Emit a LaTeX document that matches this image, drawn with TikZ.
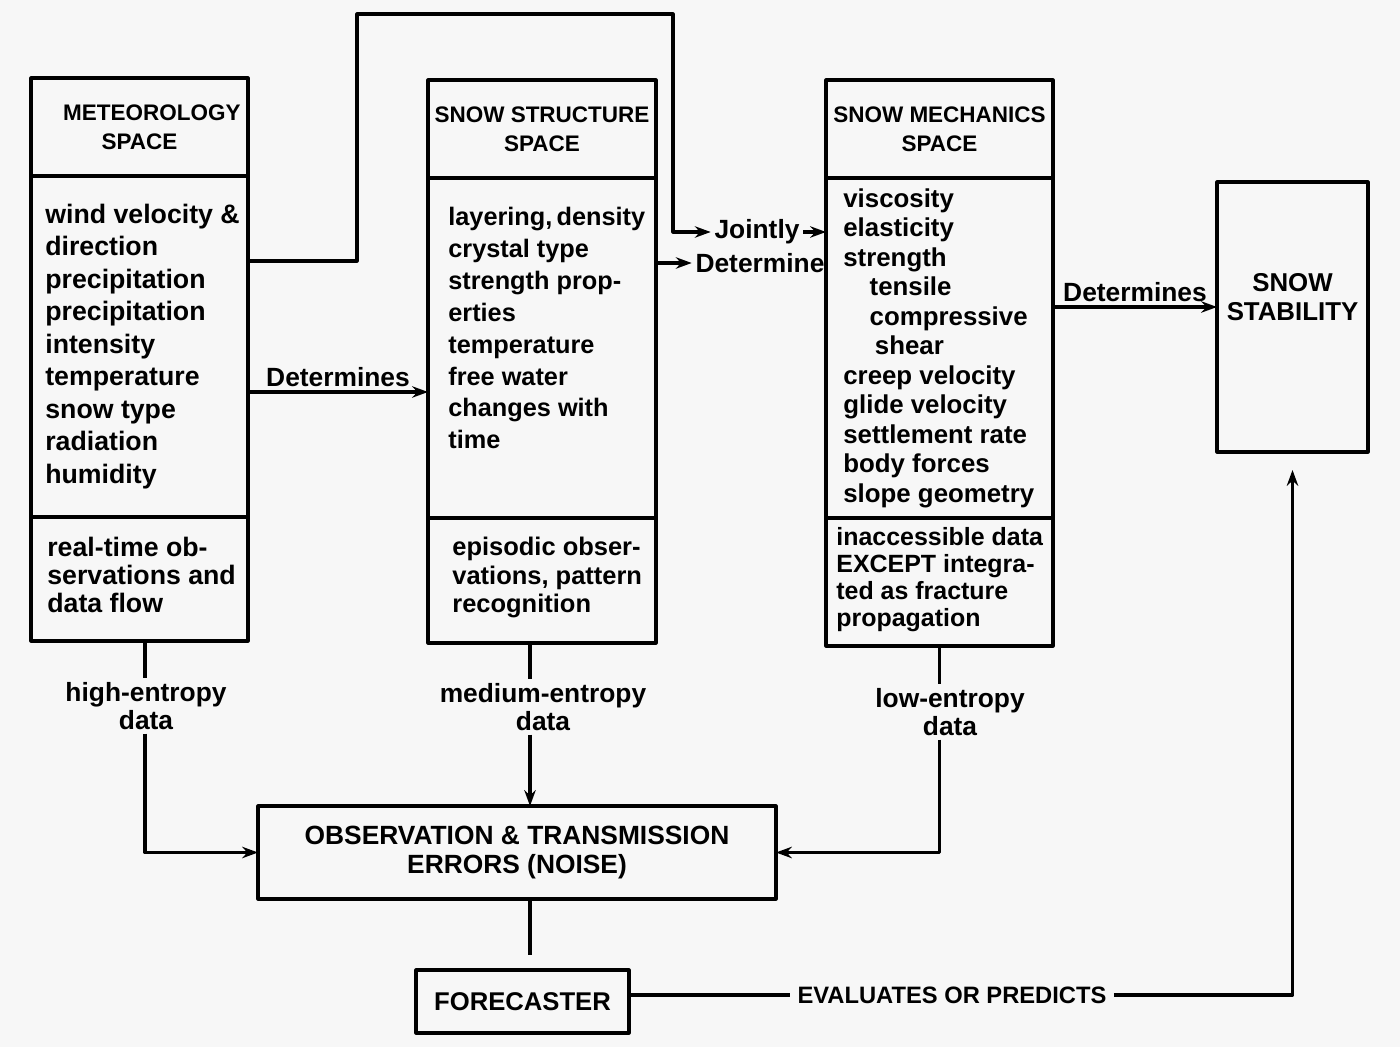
\documentclass[tikz,border=0pt]{standalone}
\usepackage{fontspec}
\setmainfont{Liberation Sans}
\usetikzlibrary{positioning,arrows.meta}
\newcommand{\px}{0.02cm}
\definecolor{paper}{gray}{0.97}
\tikzset{
  part/.style={draw, line width=1.8pt, inner sep=0pt, outer sep=0pt, minimum width=#1},
  hdr/.style={font=\fontsize{12.8}{16.5}\bfseries, align=center},
  lst/.style={font=\fontsize{15.2}{#1}\bfseries, align=left, inner sep=0pt, anchor=west},
  tag/.style={font=\fontsize{15}{16}\bfseries, align=center, inner sep=2pt},
  link/.style={line width=1.8pt},
  arr/.style={link, -{Stealth[length=9pt,width=6.5pt]}}
}
\begin{document}
\begin{tikzpicture}[x=\px, y=-\px, line join=round]
\fill[paper] (0,0) rectangle (1400,1047);
\useasboundingbox (0,0) rectangle (1400,1047);
% three spaces
\node[part=217*\px, minimum height=98*\px, anchor=north west, hdr] (methead) at (31,78) {\hspace*{14pt}METEOROLOGY\\SPACE};
\node[part=217*\px, minimum height=341*\px, below=0pt of methead] (metbody) {};
\node[part=217*\px, minimum height=124*\px, below=0pt of metbody] (metfoot) {};
\node[lst=18.5pt] (metlist) at ([xshift=14*\px]metbody.west) {wind velocity \&\\direction\\precipitation\\precipitation\\intensity\\temperature\\snow type\\radiation\\humidity};
\node[lst=16pt] (metobs) at ([xshift=16*\px, yshift=4*\px]metfoot.west) {real-time ob-\\servations and\\data flow};

\node[part=228*\px, minimum height=98*\px, anchor=north west, hdr] (sshead) at (428,80) {SNOW STRUCTURE\\SPACE};
\node[part=228*\px, minimum height=340*\px, below=0pt of sshead] (ssbody) {};
\node[part=228*\px, minimum height=125*\px, below=0pt of ssbody] (ssfoot) {};
\node[lst=18.2pt, font=\fontsize{14.4}{18.2}\bfseries] (sslist) at ([xshift=20*\px, yshift=20*\px]ssbody.west) {layering,\,density\\crystal type\\strength prop-\\erties\\temperature\\free water\\changes with\\time};
\node[lst=16.2pt, font=\fontsize{14.5}{16.2}\bfseries] (ssobs) at ([xshift=24*\px, yshift=3*\px]ssfoot.west) {episodic obser-\\vations, pattern\\recognition};

\node[part=227*\px, minimum height=98*\px, anchor=north west, hdr] (smhead) at (826,80) {SNOW MECHANICS\\SPACE};
\node[part=227*\px, minimum height=340*\px, below=0pt of smhead] (smbody) {};
\node[part=227*\px, minimum height=128*\px, below=0pt of smbody] (smfoot) {};
\node[lst=16.8pt, font=\fontsize{14.7}{16.8}\bfseries] (smlist) at ([xshift=17*\px]smbody.west) {viscosity\\elasticity\\strength\\\hspace*{15pt}tensile\\\hspace*{15pt}compressive\\\hspace*{18pt}shear\\creep velocity\\glide velocity\\settlement rate\\body forces\\slope geometry};
\node[lst=15.4pt, font=\fontsize{14.2}{15.4}\bfseries] (smobs) at ([xshift=10*\px, yshift=2*\px]smfoot.west) {inaccessible data\\EXCEPT integra-\\ted as fracture\\propagation};

\node[part=151*\px, minimum height=270*\px, anchor=north west] (stab) at (1217,182) {};
\node[hdr, font=\fontsize{14.7}{16.5}\bfseries] (stabtxt) at ([yshift=20*\px]stab.center) {SNOW\\STABILITY};

\node[part=518*\px, minimum height=93*\px, anchor=north west, align=center, font=\fontsize{15}{16.5}\bfseries] (obs) at (258,806) {OBSERVATION \& TRANSMISSION\\ERRORS (NOISE)};
\node[part=213*\px, minimum height=63*\px, anchor=north west, font=\fontsize{14.6}{16}\bfseries] (fc) at (416,970) {FORECASTER};

% labels on the connectors
\node[tag] (jt) at (757,232) {Jointly};
\node[tag] (dt) at (760,263) {Determine};
\node[tag] (hiE) at (146,706) {high-entropy\\data};
\node[tag] (medE) at (543,707) {medium-entropy\\data};
\node[tag] (lowE) at (950,712) {low-entropy\\data};
\node[tag, font=\fontsize{13.5}{14}\bfseries, inner sep=4pt] (ev) at (952,995) {EVALUATES OR PREDICTS};

\coordinate (bendA) at (357,14);
\coordinate (bendB) at (673,14);
\draw[arr] ([yshift=85.5*\px]metbody.east) -| (bendA) -- (bendB) |- (jt.west);
\draw[arr] (jt.east) -- (jt.east -| smbody.west);
\draw[arr] (dt.west -| ssbody.east) -- (dt.west);
\draw[arr] ([yshift=-45.5*\px]metbody.east) coordinate (d1) -- (d1 -| ssbody.west) node[tag, midway, above] (det1) {Determines};
\draw[arr] ([yshift=41*\px]smbody.east) coordinate (d2) -- (d2 -| stab.west) node[tag, midway, above] (det2) {Determines};

\draw[link] ([xshift=5.5*\px]metfoot.south) -- ([xshift=5.5*\px]metfoot.south |- hiE.north);
\draw[arr] ([xshift=5.5*\px]metfoot.south |- hiE.south) |- (obs.west);
\draw[link] ([xshift=-12*\px]ssfoot.south) -- ([xshift=-12*\px]ssfoot.south |- medE.north);
\draw[arr] ([xshift=-12*\px]ssfoot.south |- medE.south) -- ([xshift=-12*\px]ssfoot.south |- obs.north);
\draw[link] (smfoot.south) -- (smfoot.south |- lowE.north);
\draw[arr] (smfoot.south |- lowE.south) |- (obs.east);

\draw[link, shorten >=0.3cm] ([xshift=13*\px]obs.south) -- ([xshift=13*\px]obs.south |- fc.north);
\draw[link] (ev.west -| fc.east) -- (ev.west);
\draw[arr, shorten >=0.36cm] (ev.east) -| (stab.south);
\end{tikzpicture}
\end{document}
